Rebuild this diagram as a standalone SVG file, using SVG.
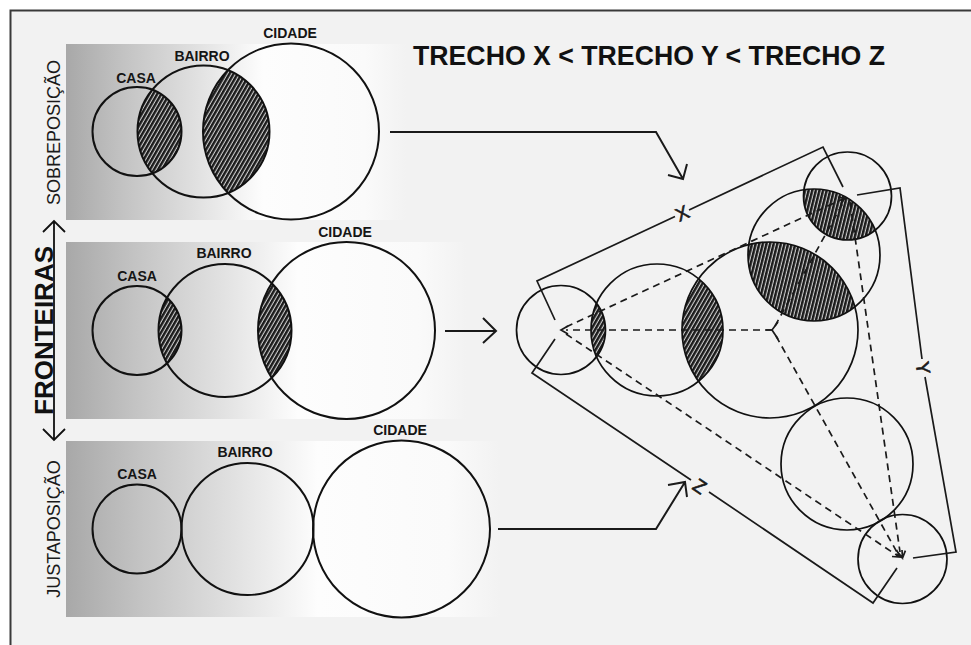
<svg xmlns="http://www.w3.org/2000/svg" width="971" height="645" viewBox="0 0 971 645">
<style>
.c{fill:none;stroke:#111;stroke-width:2}
.t{fill:none;stroke:#111;stroke-width:1.7}
.lbl{font-family:"Liberation Sans",Arial,sans-serif;font-weight:bold;font-size:14px;fill:#151515;text-anchor:middle}
.side{font-family:"Liberation Sans",Arial,sans-serif;font-size:18px;fill:#1a1a1a;text-anchor:middle}
.ln{fill:none;stroke:#1a1a1a;stroke-width:2;stroke-linejoin:miter}
.fr{fill:none;stroke:#1a1a1a;stroke-width:1.7}
.ds{fill:none;stroke:#1a1a1a;stroke-width:1.7;stroke-dasharray:7 5}
.mk{font-family:"Liberation Sans",Arial,sans-serif;font-size:19px;fill:#1a1a1a;text-anchor:middle;stroke:#1a1a1a;stroke-width:0.6}
</style>
<defs>
<linearGradient id="g" x1="0" y1="0" x2="1" y2="0">
<stop offset="0" stop-color="#a8a8a8"/>
<stop offset="0.17" stop-color="#c3c3c3"/>
<stop offset="0.38" stop-color="#e0e0e0"/>
<stop offset="0.58" stop-color="#fdfdfd"/>
<stop offset="0.88" stop-color="#fafafa"/>
<stop offset="1" stop-color="#f2f2f2"/>
</linearGradient>
<pattern id="h1" width="3.5" height="3.5" patternUnits="userSpaceOnUse" patternTransform="rotate(30)"><rect width="3.5" height="3.5" fill="#cfcfcf"/><rect width="2.4" height="3.5" fill="#1a1a1a"/></pattern>
<pattern id="h2" width="3.5" height="3.5" patternUnits="userSpaceOnUse" patternTransform="rotate(14)"><rect width="3.5" height="3.5" fill="#cfcfcf"/><rect width="2.4" height="3.5" fill="#1a1a1a"/></pattern>
<clipPath id="p1b"><circle cx="203.5" cy="131.5" r="66"/></clipPath>
<clipPath id="p1c"><circle cx="291" cy="131.5" r="88"/></clipPath>
<clipPath id="p2b"><circle cx="225" cy="330.5" r="66.5"/></clipPath>
<clipPath id="p2c"><circle cx="346.5" cy="330.5" r="88.5"/></clipPath>
<clipPath id="tB"><circle cx="657" cy="330" r="66"/></clipPath>
<clipPath id="tC"><circle cx="770" cy="330" r="88"/></clipPath>
<clipPath id="tD"><circle cx="814" cy="255" r="66"/></clipPath>
</defs>
<rect width="971" height="645" fill="#ffffff"/>
<rect x="11" y="11" width="960" height="634" fill="#f2f2f2"/>
<path d="M10.5 645V10.5H971" fill="none" stroke="#3a3a3a" stroke-width="2"/>

<g id="panel-sobreposicao">
<rect x="66" y="44" width="340" height="176" fill="url(#g)"/>
<text class="side" transform="translate(60,132.5) rotate(-90)">SOBREPOSIÇÃO</text>
<circle cx="137" cy="131.5" r="44.5" fill="url(#h1)" clip-path="url(#p1b)"/>
<circle cx="203.5" cy="131.5" r="66" fill="url(#h1)" clip-path="url(#p1c)"/>
<circle class="c" cx="137" cy="131.5" r="44.5"/>
<circle class="c" cx="203.5" cy="131.5" r="66"/>
<circle class="c" cx="291" cy="131.5" r="88"/>
<text class="lbl" x="136" y="83">CASA</text>
<text class="lbl" x="202" y="61">BAIRRO</text>
<text class="lbl" x="290" y="38">CIDADE</text>
</g>

<g id="panel-fronteiras">
<rect x="66" y="242" width="400" height="177" fill="url(#g)"/>
<circle cx="137" cy="330.5" r="44.5" fill="url(#h1)" clip-path="url(#p2b)"/>
<circle cx="225" cy="330.5" r="66.5" fill="url(#h1)" clip-path="url(#p2c)"/>
<circle class="c" cx="137" cy="330.5" r="44.5"/>
<circle class="c" cx="225" cy="330.5" r="66.5"/>
<circle class="c" cx="346.5" cy="330.5" r="88.5"/>
<text class="lbl" x="137" y="281">CASA</text>
<text class="lbl" x="224" y="258">BAIRRO</text>
<text class="lbl" x="345" y="237">CIDADE</text>
</g>

<g id="panel-justaposicao">
<rect x="66" y="441" width="434" height="176" fill="url(#g)"/>
<text class="side" transform="translate(60,529) rotate(-90)">JUSTAPOSIÇÃO</text>
<circle class="c" cx="137" cy="529" r="44.5"/>
<circle class="c" cx="247.5" cy="529" r="66"/>
<circle class="c" cx="401.5" cy="529" r="88.5"/>
<text class="lbl" x="137" y="479">CASA</text>
<text class="lbl" x="245" y="457">BAIRRO</text>
<text class="lbl" x="400" y="435">CIDADE</text>
</g>

<g id="fronteiras">
<text transform="translate(53,330.5) rotate(-90)" font-family="Liberation Sans,Arial,sans-serif" font-weight="bold" font-size="26" fill="#111" text-anchor="middle">FRONTEIRAS</text>
<path d="M54 221V440M43 232L54 221L65 232M43 429L54 440L65 429" fill="none" stroke="#111" stroke-width="1.8"/>
</g>

<g id="title"><text x="649" y="65" font-family="Liberation Sans,Arial,sans-serif" font-weight="bold" font-size="27" fill="#111" text-anchor="middle" textLength="472" lengthAdjust="spacingAndGlyphs">TRECHO X &lt; TRECHO Y &lt; TRECHO Z</text></g>

<g id="triangle">
<circle cx="561" cy="330" r="44.5" fill="url(#h1)" clip-path="url(#tB)"/>
<circle cx="657" cy="330" r="66" fill="url(#h1)" clip-path="url(#tC)"/>
<circle cx="770" cy="330" r="88" fill="url(#h2)" clip-path="url(#tD)"/>
<circle cx="847.5" cy="196" r="44" fill="url(#h2)" clip-path="url(#tD)"/>
<circle class="t" cx="561" cy="330" r="44.5"/>
<circle class="t" cx="657" cy="330" r="66"/>
<circle class="t" cx="770" cy="330" r="88"/>
<circle class="t" cx="814" cy="255" r="66"/>
<circle class="t" cx="847.5" cy="196" r="44"/>
<circle class="t" cx="847" cy="464" r="66"/>
<circle class="t" cx="902.5" cy="559" r="44.5"/>
</g>

<g id="connectors">
<path class="ln" d="M390 132H656L683 179M668 175L683 179L687 164"/>
<path class="ln" d="M445 331H496M483 318L496 331L483 343"/>
<path class="ln" d="M498 529H656L685 482M668 485L685 482L687 497"/>

<path class="fr" d="M555 320L537 281L675 216.5M689 210L823 147L843 187"/>
<path class="fr" d="M857 195L900 188L922 359M925 377L956 552L913 558"/>
<path class="fr" d="M555 339L532 373L691 480M709 492L873 603L897 568"/>
<text class="mk" transform="translate(682,213) rotate(-25)" dy="7">X</text>
<text class="mk" transform="translate(923.5,368) rotate(81)" dy="7">Y</text>
<text class="mk" transform="translate(700,486) rotate(34)" dy="7">Z</text>

<path class="ds" d="M772 330H566"/>
<path class="fr" d="M568 326L561 330L568 334"/>
<path class="fr" d="M766 330H772L778 322M772 330L778 339"/>
<path class="ds" d="M566 327L845 198"/>
<path class="fr" d="M838 197.4L845 198L841 203.7"/>
<path class="ds" d="M775 326L844 201"/>
<path class="ds" d="M566 334L898 556"/>
<path class="ds" d="M776 336L898 554"/>
<path class="ds" d="M850 202L900 552"/>
<path class="fr" d="M896.5 549.8L900 557L892 556.5M902 550L902.5 558L895.6 553.9M905.4 550.6L902.5 558L897.5 551.8"/>
</g>
</svg>
